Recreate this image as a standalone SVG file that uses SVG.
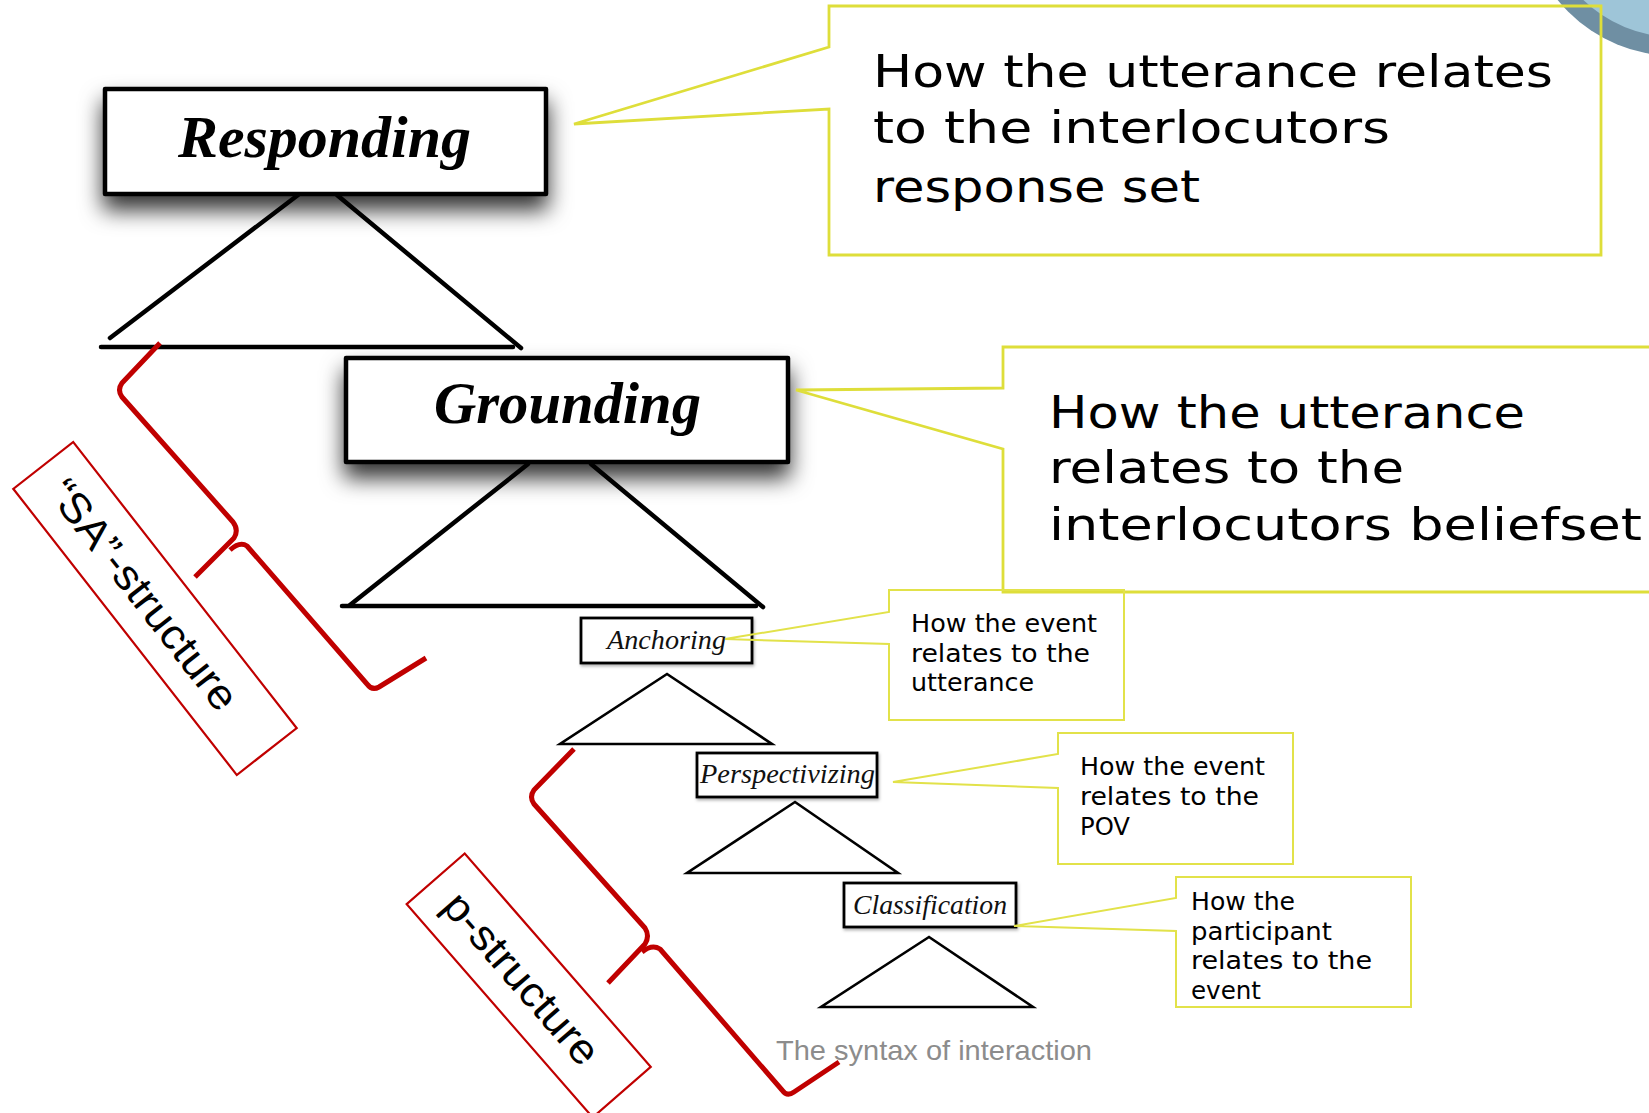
<svg xmlns="http://www.w3.org/2000/svg" width="1649" height="1113" viewBox="0 0 1649 1113">
  <defs>
    <filter id="boxShadow" x="-15%" y="-30%" width="130%" height="200%">
      <feDropShadow dx="0" dy="14" stdDeviation="11" flood-color="#000" flood-opacity="0.8"/>
    </filter>
    <filter id="smallShadow" x="-10%" y="-20%" width="120%" height="160%">
      <feDropShadow dx="1" dy="2" stdDeviation="1.5" flood-color="#000" flood-opacity="0.3"/>
    </filter>
  </defs>
  <style>
    .big-box { fill: #fff; stroke: #000; stroke-width: 4.5; stroke-linejoin: round; }
    .small-box { fill: #fff; stroke: #000; stroke-width: 2.8; }
    .big-label { font-family: "Liberation Serif", "Times New Roman", serif; font-weight: bold; font-style: italic; font-size: 60px; fill: #000; }
    .small-label { font-family: "Liberation Serif", "Times New Roman", serif; font-style: italic; font-size: 28px; fill: #111; }
    .tri-big { fill: none; stroke: #000; stroke-width: 4.5; stroke-linecap: round; stroke-linejoin: round; }
    .tri-small { fill: none; stroke: #000; stroke-width: 2.6; stroke-linejoin: miter; }
    .callout { fill: none; stroke: #dede3a; stroke-width: 2.8; stroke-linejoin: miter; }
    .callout-thin { fill: none; stroke: #e2e24a; stroke-width: 2; stroke-linejoin: miter; }
    .note-big { font-family: "DejaVu Sans", "Open Sans", sans-serif; font-size: 45px; fill: #000; }
    .note-small { font-family: "DejaVu Sans", "Open Sans", sans-serif; font-size: 24px; fill: #000; }
    .brace { fill: none; stroke: #c00000; stroke-width: 5; stroke-linecap: butt; stroke-linejoin: round; }
    .tag-box { fill: #fff; stroke: #c00000; stroke-width: 2.2; }
    .tag-text { font-family: "Liberation Sans", Arial, sans-serif; font-size: 42px; fill: #000; }
    .caption { font-family: "Liberation Sans", Arial, sans-serif; font-size: 28px; fill: #8c8c8c; }
  </style>

  <rect x="0" y="0" width="1649" height="1113" fill="#fff"/>

  <!-- corner ornament -->
  <g id="corner-ornament">
    <circle cx="1675" cy="-95" r="151" fill="#6f8fa3"/>
    <circle cx="1675" cy="-95" r="132" fill="#9ec5d8"/>
  </g>

  <!-- tree connectors: triangles and red braces -->
  <g id="connectors">
    <!-- under Responding -->
    <polyline class="tri-big" points="298,195 110,338"/>
    <polyline class="tri-big" points="337,195 521,348"/>
    <line class="tri-big" x1="101" y1="347" x2="513" y2="347"/>
    <!-- under Grounding -->
    <polyline class="tri-big" points="528,464 350,605"/>
    <polyline class="tri-big" points="591,464 763,607"/>
    <line class="tri-big" x1="342" y1="606" x2="756" y2="606"/>
    <!-- under Anchoring -->
    <polygon class="tri-small" points="667,674 560,744 772,744"/>
    <!-- under Perspectivizing -->
    <polygon class="tri-small" points="795,802 687,873 898,873"/>
    <!-- under Classification -->
    <polygon class="tri-small" points="929,937 821,1007 1033,1007"/>

    <!-- SA brace -->
    <path class="brace" d="M160,343 L122,383 Q117,390 122,397 L233,522 Q239,530 234,538 L195,577"/>
    <path class="brace" d="M230,550 Q240,541 247,546 L367,684 Q372,691 379,687 L426,658"/>
    <!-- p brace -->
    <path class="brace" d="M574,749 L534,790 Q529,797 534,804 L645,928 Q650,936 645,944 L608,983"/>
    <path class="brace" d="M642,952 Q652,944 660,949 L782,1090 Q787,1097 794,1092 L839,1062"/>
  </g>

  <!-- main nodes -->
  <g id="node-responding">
    <rect class="big-box" x="105" y="89" width="441" height="105" filter="url(#boxShadow)"/>
    <text class="big-label" x="178" y="157" textLength="293" lengthAdjust="spacingAndGlyphs">Responding</text>
  </g>

  <g id="node-grounding">
    <rect class="big-box" x="346" y="358" width="442" height="104" filter="url(#boxShadow)"/>
    <text class="big-label" x="434" y="423" textLength="267" lengthAdjust="spacingAndGlyphs">Grounding</text>
  </g>

  <g id="node-anchoring">
    <rect class="small-box" x="581" y="618" width="171" height="45" filter="url(#smallShadow)"/>
    <text class="small-label" x="607" y="649" textLength="119" lengthAdjust="spacingAndGlyphs">Anchoring</text>
  </g>

  <g id="node-perspectivizing">
    <rect class="small-box" x="697" y="753" width="180" height="44" filter="url(#smallShadow)"/>
    <text class="small-label" x="700" y="783" font-size="29" textLength="175" lengthAdjust="spacingAndGlyphs">Perspectivizing</text>
  </g>

  <g id="node-classification">
    <rect class="small-box" x="844" y="883" width="172" height="44" filter="url(#smallShadow)"/>
    <text class="small-label" x="853" y="914" font-size="29" textLength="154" lengthAdjust="spacingAndGlyphs">Classification</text>
  </g>

  <!-- callouts -->
  <g id="callout-responding">
    <path class="callout" d="M829,47 L829,6 L1601,6 L1601,255 L829,255 L829,109 L574,124 Z"/>
    <text class="note-big" x="873" y="87" textLength="680" lengthAdjust="spacingAndGlyphs">How the utterance relates</text>
    <text class="note-big" x="873" y="143" textLength="517" lengthAdjust="spacingAndGlyphs">to the interlocutors</text>
    <text class="note-big" x="873" y="202" textLength="327" lengthAdjust="spacingAndGlyphs">response set</text>
  </g>

  <g id="callout-grounding">
    <path class="callout" d="M1660,347 L1003,347 L1003,388 L796,390 L1003,449 L1003,592 L1660,592"/>
    <text class="note-big" x="1049" y="428" textLength="476" lengthAdjust="spacingAndGlyphs">How the utterance</text>
    <text class="note-big" x="1049" y="483" textLength="355" lengthAdjust="spacingAndGlyphs">relates to the</text>
    <text class="note-big" x="1049" y="540" textLength="593" lengthAdjust="spacingAndGlyphs">interlocutors beliefset</text>
  </g>

  <g id="callout-anchoring">
    <path class="callout-thin" d="M889,612 L889,590 L1124,590 L1124,720 L889,720 L889,644 L725,639 Z"/>
    <text class="note-small" x="911" y="632" textLength="186" lengthAdjust="spacingAndGlyphs">How the event</text>
    <text class="note-small" x="911" y="662" textLength="179" lengthAdjust="spacingAndGlyphs">relates to the</text>
    <text class="note-small" x="911" y="691" textLength="123" lengthAdjust="spacingAndGlyphs">utterance</text>
  </g>

  <g id="callout-perspectivizing">
    <path class="callout-thin" d="M1058,754 L1058,733 L1293,733 L1293,864 L1058,864 L1058,788 L893,782 Z"/>
    <text class="note-small" x="1080" y="775" textLength="185" lengthAdjust="spacingAndGlyphs">How the event</text>
    <text class="note-small" x="1080" y="805" textLength="179" lengthAdjust="spacingAndGlyphs">relates to the</text>
    <text class="note-small" x="1080" y="835" textLength="50" lengthAdjust="spacingAndGlyphs">POV</text>
  </g>

  <g id="callout-classification">
    <path class="callout-thin" d="M1176,898 L1176,877 L1411,877 L1411,1007 L1176,1007 L1176,931 L1014,926 Z"/>
    <text class="note-small" x="1191" y="910" textLength="104" lengthAdjust="spacingAndGlyphs">How the</text>
    <text class="note-small" x="1191" y="939.5" textLength="141" lengthAdjust="spacingAndGlyphs">participant</text>
    <text class="note-small" x="1191" y="969" textLength="181" lengthAdjust="spacingAndGlyphs">relates to the</text>
    <text class="note-small" x="1191" y="999" textLength="70" lengthAdjust="spacingAndGlyphs">event</text>
  </g>

  <!-- rotated structure tags -->
  <g id="tag-sa" transform="translate(155,608.5) rotate(52)">
    <rect class="tag-box" x="-181.5" y="-38" width="363" height="76"/>
    <text class="tag-text" x="-18" y="15" text-anchor="middle" textLength="280" lengthAdjust="spacingAndGlyphs">“SA”-structure</text>
  </g>

  <g id="tag-p" transform="translate(528.7,985.5) rotate(48.9)">
    <rect class="tag-box" x="-141.5" y="-38.5" width="283" height="77"/>
    <text class="tag-text" x="-10" y="15" font-size="45" text-anchor="middle" textLength="214" lengthAdjust="spacingAndGlyphs">p-structure</text>
  </g>

  <text id="caption" class="caption" x="776" y="1060" textLength="316" lengthAdjust="spacingAndGlyphs">The syntax of interaction</text>
</svg>
